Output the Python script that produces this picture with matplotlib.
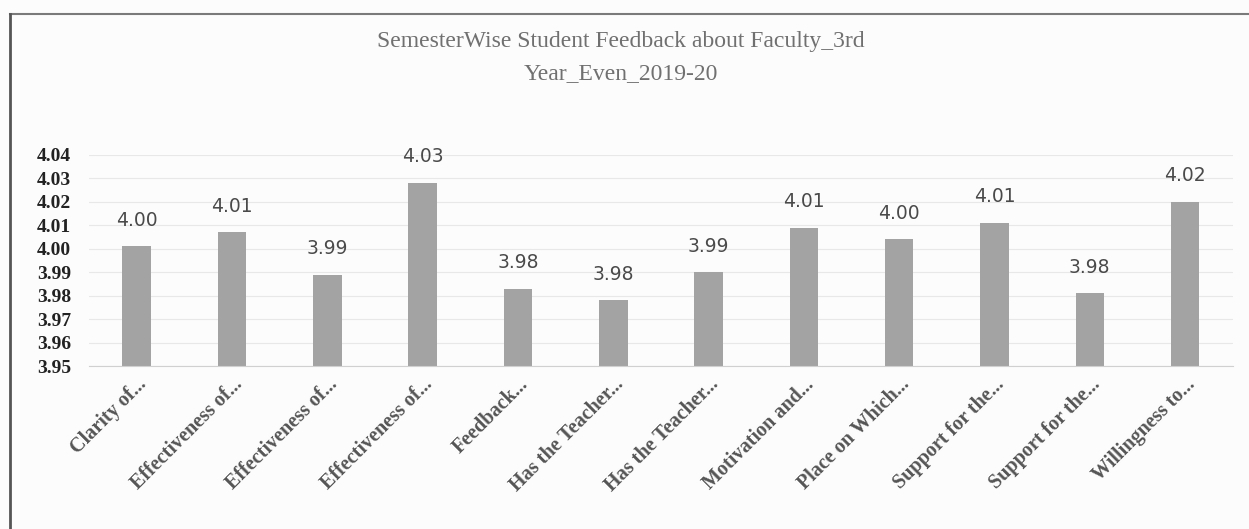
import matplotlib.pyplot as plt
from matplotlib.lines import Line2D

categories = [
    "Clarity of...", "Effectiveness of...", "Effectiveness of...",
    "Effectiveness of...", "Feedback...", "Has the Teacher...",
    "Has the Teacher...", "Motivation and...", "Place on Which...",
    "Support for the...", "Support for the...", "Willingness to...",
]
scores = [4.001, 4.007, 3.989, 4.028, 3.983, 3.978,
          3.990, 4.009, 4.004, 4.011, 3.981, 4.020]
y_ticks = [3.95, 3.96, 3.97, 3.98, 3.99, 4.00, 4.01, 4.02, 4.03, 4.04]

fig = plt.figure(figsize=(12.49, 5.29), dpi=100, facecolor="#fcfcfc")
ax = fig.add_axes([0.0713, 0.308, 0.9157, 0.399])
ax.set_facecolor("#fcfcfc")

x = list(range(len(categories)))
bars = ax.bar(x, scores, width=0.3, color="#a3a3a3", zorder=2)
ax.bar_label(bars, labels=["%.2f" % v for v in scores], padding=12,
             fontsize=13.5, color="#4a4a4a", family="DejaVu Sans")

ax.set_ylim(3.95, 4.04)
ax.set_xlim(-0.5, len(categories) - 0.5)
ax.set_yticks(y_ticks)
ax.set_yticklabels(["%.2f" % t for t in y_ticks], family="Liberation Serif",
                   fontweight="bold", fontsize=14, color="#222222")
ax.set_xticks(x)
ax.set_xticklabels(categories, rotation=45, ha="right", va="top",
                   rotation_mode="anchor", family="Liberation Serif",
                   fontweight="bold", fontsize=14.5, color="#555555")
ax.tick_params(axis="y", length=0, pad=13)
ax.tick_params(axis="x", length=0, pad=6)
ax.grid(axis="y", color="#e8e8e8", linewidth=0.8, zorder=0)
for s in ["top", "right", "left"]:
    ax.spines[s].set_visible(False)
ax.spines["bottom"].set_color("#d0d0d0")

fig.text(0.497, 0.892, "SemesterWise Student Feedback about Faculty_3rd\nYear_Even_2019-20",
         ha="center", va="center", family="Liberation Serif", fontsize=17,
         color="#707070", linespacing=1.7)

# chart frame (only top and left edges show in the scan)
fig.add_artist(Line2D([0.008, 1.0], [0.974, 0.974], transform=fig.transFigure,
                      color="#7a7a7a", linewidth=1.5))
fig.add_artist(Line2D([0.008, 0.008], [0.0, 0.974], transform=fig.transFigure,
                      color="#555555", linewidth=2))

fig.savefig("out.png", dpi=100, facecolor=fig.get_facecolor())
